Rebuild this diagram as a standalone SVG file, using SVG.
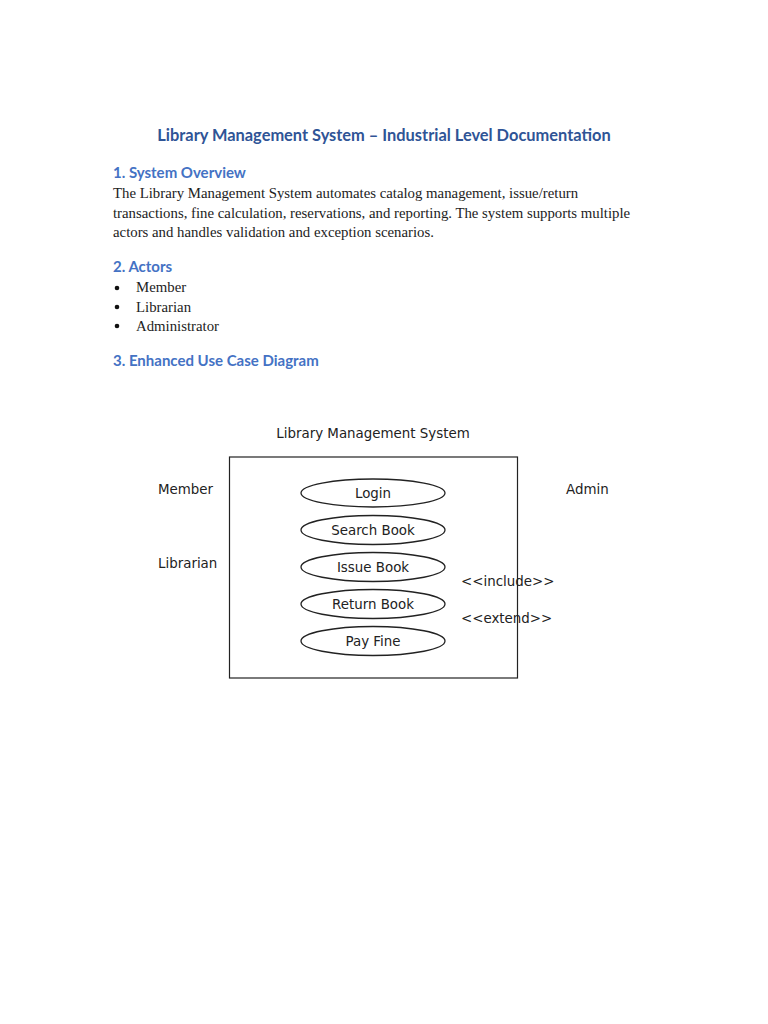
<svg xmlns="http://www.w3.org/2000/svg" width="768" height="1024" viewBox="0 0 768 1024">
<style>
.title{font-family:Lato,"Noto Sans",sans-serif;font-weight:bold;font-size:16.4px;fill:#2F5496}
.h{font-family:Lato,"Noto Sans",sans-serif;font-weight:bold;font-size:15px;fill:#4472C4}
.body{font-family:"Liberation Serif","DejaVu Serif",serif;font-size:14.8px;fill:#222}
.d{font-family:"DejaVu Sans",sans-serif;font-size:13.4px;fill:#222}
.uc{fill:#fff;stroke:#222;stroke-width:1.3}
</style>
<rect width="768" height="1024" fill="#fff"/>
<text class="title" x="384" y="141" text-anchor="middle">Library Management System – Industrial Level Documentation</text>
<text class="h" x="113" y="178">1. System Overview</text>
<text class="body" x="113" y="198">The Library Management System automates catalog management, issue/return</text>
<text class="body" x="113" y="218">transactions, fine calculation, reservations, and reporting. The system supports multiple</text>
<text class="body" x="113" y="237">actors and handles validation and exception scenarios.</text>
<text class="h" x="113" y="272">2. Actors</text>
<g class="body">
<circle cx="117" cy="288" r="2.3" fill="#111"/>
<circle cx="117" cy="307" r="2.3" fill="#111"/>
<circle cx="117" cy="326" r="2.3" fill="#111"/>
<text x="136" y="292">Member</text>
<text x="136" y="312">Librarian</text>
<text x="136" y="331">Administrator</text>
</g>
<text class="h" x="113" y="366">3. Enhanced Use Case Diagram</text>

<g id="system">
<text class="d" x="373" y="438" text-anchor="middle">Library Management System</text>
<rect x="229.5" y="457" width="288" height="221" fill="none" stroke="#222" stroke-width="1.2"/>
</g>
<g id="actor-member"><text class="d" x="158" y="494">Member</text></g>
<g id="actor-librarian"><text class="d" x="158" y="568">Librarian</text></g>
<g id="actor-admin"><text class="d" x="566" y="494">Admin</text></g>
<g id="uc-login"><ellipse class="uc" cx="373" cy="493" rx="72" ry="14"/><text class="d" x="373" y="498" text-anchor="middle">Login</text></g>
<g id="uc-search"><ellipse class="uc" cx="373" cy="530" rx="72" ry="14.5"/><text class="d" x="373" y="535" text-anchor="middle">Search Book</text></g>
<g id="uc-issue"><ellipse class="uc" cx="373" cy="567" rx="72" ry="14.5"/><text class="d" x="373" y="572" text-anchor="middle">Issue Book</text></g>
<g id="uc-return"><ellipse class="uc" cx="373" cy="604" rx="72" ry="14.5"/><text class="d" x="373" y="609" text-anchor="middle">Return Book</text></g>
<g id="uc-payfine"><ellipse class="uc" cx="373" cy="641" rx="72" ry="14.5"/><text class="d" x="373" y="646" text-anchor="middle">Pay Fine</text></g>
<g id="connectors">
<text class="d" x="461" y="586">&lt;&lt;include&gt;&gt;</text>
<text class="d" x="461" y="623">&lt;&lt;extend&gt;&gt;</text>
</g>
</svg>
